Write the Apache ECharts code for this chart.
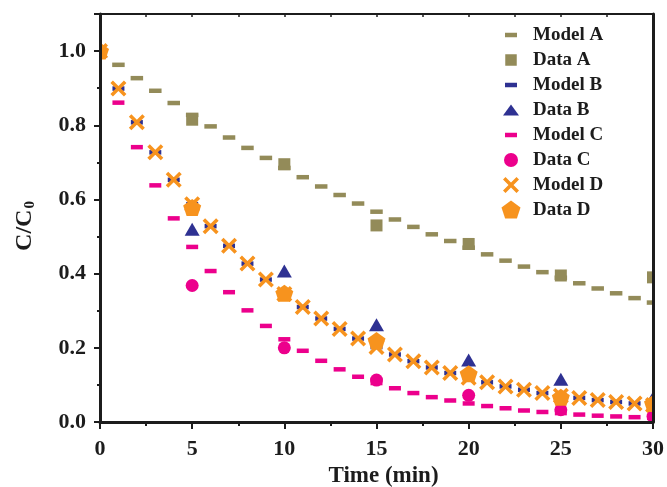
<!DOCTYPE html>
<html>
<head>
<meta charset="utf-8">
<title>C/C0 vs time</title>
<script src="https://cdn.jsdelivr.net/npm/echarts@6/dist/echarts.min.js"></script>
<style>
  html, body { margin: 0; padding: 0; background: #ffffff; }
  #chart { width: 667px; height: 487px; }
</style>
</head>
<body>
<div id="chart"></div>
<script>
// Model curves are sampled every minute, measurements every 5 minutes
const modelTimes = [0, 1, 2, 3, 4, 5, 6, 7, 8, 9, 10, 11, 12, 13, 14, 15,
                    16, 17, 18, 19, 20, 21, 22, 23, 24, 25, 26, 27, 28, 29, 30];
const dataTimes = [0, 5, 10, 15, 20, 25, 30];

const modelA = [1.000, 0.963, 0.927, 0.893, 0.860, 0.828, 0.797, 0.767, 0.739, 0.712, 0.685,
                0.660, 0.635, 0.612, 0.589, 0.567, 0.546, 0.526, 0.506, 0.488, 0.470,
                0.452, 0.435, 0.419, 0.404, 0.389, 0.374, 0.360, 0.347, 0.334, 0.322];
const dataA = [1.000, 0.815, 0.695, 0.530, 0.480, 0.395, 0.390];

const modelB = [1.000, 0.899, 0.808, 0.727, 0.653, 0.587, 0.528, 0.475, 0.427, 0.384, 0.345,
                0.310, 0.279, 0.251, 0.225, 0.202, 0.182, 0.164, 0.147, 0.132, 0.119,
                0.107, 0.096, 0.087, 0.078, 0.071, 0.065, 0.059, 0.054, 0.050, 0.046];
const dataB = [1.000, 0.520, 0.407, 0.262, 0.167, 0.115, 0.065];

const modelC = [1.000, 0.861, 0.741, 0.638, 0.549, 0.472, 0.407, 0.350, 0.301, 0.259, 0.223,
                0.192, 0.165, 0.142, 0.122, 0.105, 0.091, 0.078, 0.067, 0.058, 0.050,
                0.043, 0.037, 0.031, 0.027, 0.024, 0.020, 0.017, 0.015, 0.013, 0.011];
const dataC = [1.000, 0.368, 0.200, 0.113, 0.072, 0.033, 0.015];

const modelD = [1.000, 0.899, 0.808, 0.727, 0.653, 0.587, 0.528, 0.475, 0.427, 0.384, 0.345,
                0.310, 0.279, 0.251, 0.225, 0.202, 0.182, 0.164, 0.147, 0.132, 0.119,
                0.107, 0.096, 0.087, 0.078, 0.071, 0.065, 0.059, 0.054, 0.050, 0.046];
const dataD = [1.000, 0.578, 0.347, 0.220, 0.130, 0.067, 0.050];

const seriesNames = ['Model A', 'Data A', 'Model B', 'Data B', 'Model C', 'Data C', 'Model D', 'Data D'];
const xTicks = { min: 0, max: 30, interval: 5 };
const yTicks = { min: 0, max: 1.1, interval: 0.2 };

const FONT = '"Liberation Serif", "Times New Roman", Times, serif';
const INK = '#1c1c1c';
const OLIVE = '#938b59';
const NAVY = '#2e3192';
const MAGENTA = '#ec008c';
const ORANGE = '#f7931e';

// marker shapes
const CROSS = 'path://M0,2.5L2.5,0L8,5.5L13.5,0L16,2.5L10.5,8L16,13.5L13.5,16L8,10.5L2.5,16L0,13.5L5.5,8Z';
const PENTAGON = 'path://M9.51,0L19.02,6.91L15.39,18.09L3.63,18.09L0,6.91Z';

// legend glyphs share a 20x20 frame so each keeps its own size
const FRAME = 'M0,0M20,20';
const legendIcons = {
  dash: 'path://' + FRAME + 'M4,7.75h12v4.5h-12Z',
  square: 'path://' + FRAME + 'M4.25,4.25h11.5v11.5h-11.5Z',
  triangle: 'path://' + FRAME + 'M10,4.5L18,15.5L2,15.5Z',
  circle: 'path://' + FRAME + 'M3,10a7,7 0 1,0 14,0a7,7 0 1,0 -14,0Z',
  cross: 'path://' + FRAME + 'M2,4.5L4.5,2L10,7.5L15.5,2L18,4.5L12.5,10L18,15.5L15.5,18L10,12.5L4.5,18L2,15.5L7.5,10Z',
  pentagon: 'path://' + FRAME + 'M10,0.5L19.51,7.41L15.88,18.59L4.12,18.59L0.49,7.41Z'
};

function pairs(xs, ys) {
  return xs.map((x, i) => [x, ys[i]]);
}

function scatter(name, xs, ys, symbol, size, color) {
  return {
    name: name,
    type: 'scatter',
    data: pairs(xs, ys),
    symbol: symbol,
    symbolSize: size,
    itemStyle: { color: color, opacity: 1 },
    emphasis: { disabled: true },
    silent: true,
    animation: false
  };
}

const series = [
  scatter(seriesNames[0], modelTimes, modelA, 'rect', [12.5, 4.5], OLIVE),
  scatter(seriesNames[1], dataTimes, dataA, 'rect', [12, 12], OLIVE),
  scatter(seriesNames[2], modelTimes, modelB, 'rect', [12, 4.5], NAVY),
  scatter(seriesNames[3], dataTimes, dataB, 'triangle', [15, 13], NAVY),
  scatter(seriesNames[4], modelTimes, modelC, 'rect', [12, 4.5], MAGENTA),
  scatter(seriesNames[5], dataTimes, dataC, 'circle', 13, MAGENTA),
  scatter(seriesNames[6], modelTimes, modelD, CROSS, 16, ORANGE),
  scatter(seriesNames[7], dataTimes, dataD, PENTAGON, [18, 17], ORANGE)
];

const iconOrder = ['dash', 'square', 'dash', 'triangle', 'dash', 'circle', 'cross', 'pentagon'];

const labelStyle = { fontFamily: FONT, fontWeight: 'bold', color: INK };

const chart = echarts.init(document.getElementById('chart'), null, { renderer: 'canvas' });

chart.setOption({
  backgroundColor: '#ffffff',
  animation: false,
  grid: { left: 100, right: 14, top: 14, bottom: 65, outerBoundsMode: 'none' },
  legend: {
    orient: 'vertical',
    left: 496,
    top: 20,
    itemWidth: 20,
    itemHeight: 20,
    itemGap: 5,
    selectedMode: false,
    data: seriesNames.map((n, i) => ({ name: n, icon: legendIcons[iconOrder[i]] })),
    formatter: name => '{t|' + name + '}',
    textStyle: {
      rich: {
        t: { fontFamily: FONT, fontWeight: 'bold', fontSize: 19, color: INK, padding: [0, 0, 0, 7] }
      }
    }
  },
  xAxis: [
    {
      type: 'value',
      position: 'bottom',
      min: xTicks.min, max: xTicks.max, interval: xTicks.interval,
      z: 10,
      name: 'Time (min)',
      nameLocation: 'middle',
      nameGap: 37,
      nameTextStyle: Object.assign({ fontSize: 23, padding: [0, 0, 0, 14] }, labelStyle),
      axisLine: { show: true, onZero: false, lineStyle: { color: INK, width: 3 } },
      axisTick: { show: true, inside: false, length: 7, lineStyle: { color: INK, width: 2 } },
      minorTick: { show: true, splitNumber: 2, length: 4, lineStyle: { color: INK, width: 2 } },
      axisLabel: Object.assign({ fontSize: 22, margin: 16 }, labelStyle),
      splitLine: { show: false }
    },
    {
      type: 'value',
      position: 'top',
      min: 0, max: 30, interval: 2.5,
      z: 10,
      axisLine: { show: true, onZero: false, lineStyle: { color: INK, width: 2 } },
      axisTick: { show: true, inside: true, length: 3, lineStyle: { color: INK, width: 1.5 } },
      axisLabel: { show: false },
      splitLine: { show: false }
    }
  ],
  yAxis: [
    {
      type: 'value',
      position: 'left',
      min: yTicks.min, max: yTicks.max, interval: yTicks.interval,
      z: 10,
      name: '{a|C/C}{b|0}',
      nameLocation: 'middle',
      nameGap: 62,
      nameRotate: 90,
      nameTextStyle: {
        padding: [0, 16, 0, 0],
        rich: {
          a: { fontFamily: FONT, fontWeight: 'bold', fontSize: 24, color: INK },
          b: { fontFamily: FONT, fontWeight: 'bold', fontSize: 15, color: INK, padding: [11, 0, 0, 1] }
        }
      },
      axisLine: { show: true, onZero: false, lineStyle: { color: INK, width: 3 } },
      axisTick: { show: true, inside: false, length: 6, lineStyle: { color: INK, width: 2 } },
      minorTick: { show: true, splitNumber: 2, length: 3, lineStyle: { color: INK, width: 2 } },
      axisLabel: Object.assign({
        fontSize: 22, margin: 14, showMaxLabel: false,
        formatter: v => (v > 1.05 ? '' : v.toFixed(1))
      }, labelStyle),
      splitLine: { show: false }
    },
    {
      type: 'value',
      position: 'right',
      min: yTicks.min, max: yTicks.max,
      z: 10,
      axisLine: { show: true, onZero: false, lineStyle: { color: INK, width: 3 } },
      axisTick: { show: false },
      axisLabel: { show: false },
      splitLine: { show: false }
    }
  ],
  series: series
});

// markers sitting on the frame are cut at the plot edges
const lo = chart.convertToPixel({ gridIndex: 0 }, [xTicks.min, yTicks.min]);
const hi = chart.convertToPixel({ gridIndex: 0 }, [xTicks.max, yTicks.max]);
const W = chart.getWidth();
const H = chart.getHeight();
const mask = { fill: '#ffffff' };
chart.setOption({
  graphic: [
    { type: 'rect', z: 5, silent: true, shape: { x: 0, y: 0, width: lo[0], height: H }, style: mask },
    { type: 'rect', z: 5, silent: true, shape: { x: hi[0], y: 0, width: W - hi[0], height: H }, style: mask },
    { type: 'rect', z: 5, silent: true, shape: { x: 0, y: lo[1], width: W, height: H - lo[1] }, style: mask }
  ]
});
</script>
</body>
</html>
